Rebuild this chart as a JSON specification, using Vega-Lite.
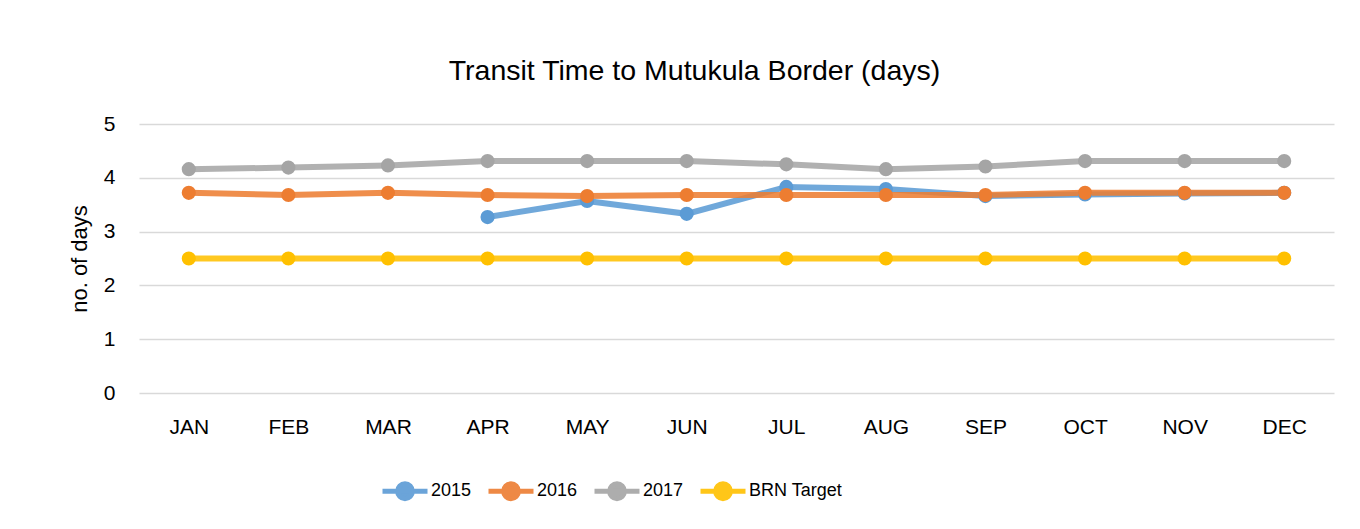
{
  "$schema": "https://vega.github.io/schema/vega-lite/v6.json",
  "autosize": "none",
  "width": 1195,
  "height": 269,
  "padding": {"left": 139, "top": 124, "right": 26, "bottom": 136},
  "background": "white",
  "config": {
    "font": "Liberation Sans",
    "view": {"stroke": null}
  },
  "title": {
    "text": "Transit Time to Mutukula Border (days)",
    "fontSize": 28.5,
    "fontWeight": "normal",
    "color": "#000000",
    "anchor": "middle",
    "frame": "group",
    "dx": -42,
    "baseline": "alphabetic",
    "offset": 5
  },
  "data": {
    "values": [
      {"month": "APR", "series": "2015", "days": 3.27},
      {"month": "MAY", "series": "2015", "days": 3.57},
      {"month": "JUN", "series": "2015", "days": 3.33},
      {"month": "JUL", "series": "2015", "days": 3.83},
      {"month": "AUG", "series": "2015", "days": 3.79},
      {"month": "SEP", "series": "2015", "days": 3.66},
      {"month": "OCT", "series": "2015", "days": 3.69},
      {"month": "NOV", "series": "2015", "days": 3.71},
      {"month": "DEC", "series": "2015", "days": 3.72},
      {"month": "JAN", "series": "2016", "days": 3.72},
      {"month": "FEB", "series": "2016", "days": 3.68},
      {"month": "MAR", "series": "2016", "days": 3.72},
      {"month": "APR", "series": "2016", "days": 3.68},
      {"month": "MAY", "series": "2016", "days": 3.66},
      {"month": "JUN", "series": "2016", "days": 3.68},
      {"month": "JUL", "series": "2016", "days": 3.68},
      {"month": "AUG", "series": "2016", "days": 3.68},
      {"month": "SEP", "series": "2016", "days": 3.68},
      {"month": "OCT", "series": "2016", "days": 3.72},
      {"month": "NOV", "series": "2016", "days": 3.72},
      {"month": "DEC", "series": "2016", "days": 3.72},
      {"month": "JAN", "series": "2017", "days": 4.16},
      {"month": "FEB", "series": "2017", "days": 4.19},
      {"month": "MAR", "series": "2017", "days": 4.23},
      {"month": "APR", "series": "2017", "days": 4.31},
      {"month": "MAY", "series": "2017", "days": 4.31},
      {"month": "JUN", "series": "2017", "days": 4.31},
      {"month": "JUL", "series": "2017", "days": 4.25},
      {"month": "AUG", "series": "2017", "days": 4.16},
      {"month": "SEP", "series": "2017", "days": 4.21},
      {"month": "OCT", "series": "2017", "days": 4.31},
      {"month": "NOV", "series": "2017", "days": 4.31},
      {"month": "DEC", "series": "2017", "days": 4.31},
      {"month": "JAN", "series": "BRN Target", "days": 2.5},
      {"month": "FEB", "series": "BRN Target", "days": 2.5},
      {"month": "MAR", "series": "BRN Target", "days": 2.5},
      {"month": "APR", "series": "BRN Target", "days": 2.5},
      {"month": "MAY", "series": "BRN Target", "days": 2.5},
      {"month": "JUN", "series": "BRN Target", "days": 2.5},
      {"month": "JUL", "series": "BRN Target", "days": 2.5},
      {"month": "AUG", "series": "BRN Target", "days": 2.5},
      {"month": "SEP", "series": "BRN Target", "days": 2.5},
      {"month": "OCT", "series": "BRN Target", "days": 2.5},
      {"month": "NOV", "series": "BRN Target", "days": 2.5},
      {"month": "DEC", "series": "BRN Target", "days": 2.5}
    ]
  },
  "encoding": {
    "x": {
      "field": "month",
      "type": "ordinal",
      "sort": ["JAN","FEB","MAR","APR","MAY","JUN","JUL","AUG","SEP","OCT","NOV","DEC"],
      "scale": {"type": "point", "padding": 0.5},
      "axis": {
        "title": null,
        "labelAngle": 0,
        "labelFontSize": 21,
        "labelColor": "#000000",
        "labelPadding": 23,
        "ticks": false,
        "domain": false,
        "grid": false
      }
    },
    "y": {
      "field": "days",
      "type": "quantitative",
      "scale": {"domain": [0, 5], "nice": false},
      "axis": {
        "title": "no. of days",
        "titleFontSize": 22,
        "titleFontWeight": "normal",
        "titleColor": "#000000",
        "titlePadding": 12,
        "values": [0, 1, 2, 3, 4, 5],
        "labelFontSize": 21,
        "labelColor": "#000000",
        "labelPadding": 24,
        "ticks": false,
        "domain": false,
        "grid": true,
        "gridColor": "#d9d9d9",
        "gridWidth": 1.5
      }
    },
    "color": {
      "field": "series",
      "type": "nominal",
      "scale": {
        "domain": ["2015", "2016", "2017", "BRN Target"],
        "range": ["#5b9bd5", "#ed7d31", "#a5a5a5", "#ffc000"]
      },
      "legend": {
        "title": null,
        "orient": "none",
        "direction": "horizontal",
        "legendX": 241,
        "legendY": 342,
        "labelFontSize": 18,
        "labelColor": "#000000",
        "labelOffset": 1,
        "columnPadding": 6,
        "symbolType": "M-1,0L1,0M-0.33,0A0.33,0.33 0 1,0 0.33,0A0.33,0.33 0 1,0 -0.33,0Z",
        "symbolSize": 2025,
        "symbolStrokeWidth": 5,
        "symbolOpacity": 0.9,
        "encode": {
          "symbols": {
            "update": {
              "fill": {"scale": "color", "field": "value"},
              "stroke": {"scale": "color", "field": "value"}
            }
          }
        }
      }
    }
  },
  "layer": [
    {
      "mark": {"type": "line", "strokeWidth": 6, "opacity": 0.87}
    },
    {
      "mark": {"type": "point", "filled": true, "size": 200, "opacity": 1}
    }
  ]
}
